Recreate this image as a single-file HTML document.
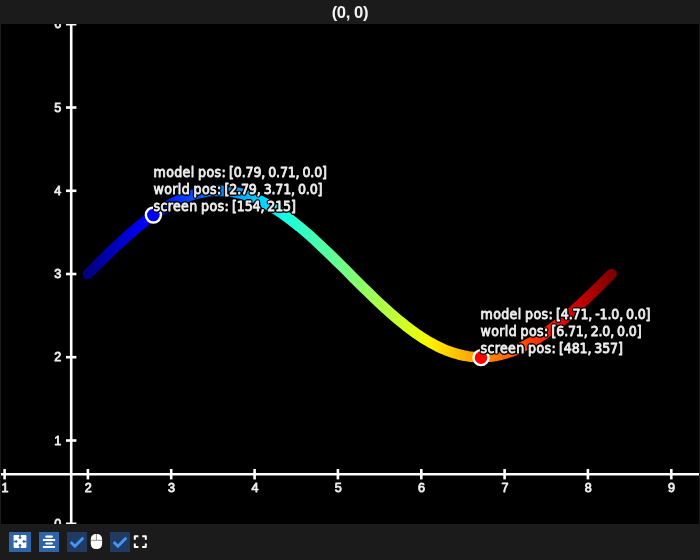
<!DOCTYPE html>
<html><head><meta charset="utf-8"><title>(0, 0)</title>
<style>
html,body{margin:0;padding:0;background:#1b1b1b;}
body{width:700px;height:560px;overflow:hidden;position:relative;font-family:"Liberation Sans","DejaVu Sans",sans-serif;}
#plot{position:absolute;left:1px;top:24px;width:698px;height:500px;background:#000;overflow:hidden;}
#title{position:absolute;left:0;top:-0.7px;width:700px;height:24px;line-height:27px;text-align:center;color:#f2f2f2;font-weight:bold;font-size:16.6px;letter-spacing:-0.4px;text-indent:-0.2px;}
svg{position:absolute;left:-1px;top:-24px;}
.ax line{stroke:#fff;stroke-width:2.6;}
.lbl text{fill:#ececec;stroke:#ececec;stroke-width:0.8px;stroke-linejoin:round;font-size:12.6px;font-family:"Liberation Sans","DejaVu Sans",sans-serif;}
.info text{letter-spacing:0.05px;word-spacing:-0.8px;font-size:14px;font-family:"DejaVu Sans Condensed","Liberation Sans",sans-serif;stroke-linejoin:round;}
.info .a{letter-spacing:0.35px;}
.info .b{letter-spacing:-0.15px;}
.info .f{fill:#ededed;stroke:#ededed;stroke-width:0.8px;}
#tb{position:absolute;left:0;top:524px;width:700px;height:36px;}
</style></head><body>
<div id="title">(0, 0)</div>
<div id="plot">
<svg width="700" height="560" viewBox="0 0 700 560">
<defs><filter id="ol" x="-5%" y="-5%" width="110%" height="110%" color-interpolation-filters="sRGB"><feGaussianBlur in="SourceAlpha" stdDeviation="1.25" result="b"/><feComponentTransfer in="b" result="o"><feFuncR type="discrete" tableValues="0"/><feFuncG type="discrete" tableValues="0"/><feFuncB type="discrete" tableValues="0"/><feFuncA type="linear" slope="8" intercept="-0.4"/></feComponentTransfer><feMerge><feMergeNode in="o"/><feMergeNode in="SourceGraphic"/></feMerge></filter><linearGradient id="jet" gradientUnits="userSpaceOnUse" x1="87.9" y1="0" x2="611.5" y2="0"><stop offset="0.0000" stop-color="rgb(0,0,128)"/><stop offset="0.0100" stop-color="rgb(0,0,139)"/><stop offset="0.0200" stop-color="rgb(0,0,151)"/><stop offset="0.0300" stop-color="rgb(0,0,162)"/><stop offset="0.0400" stop-color="rgb(0,0,174)"/><stop offset="0.0500" stop-color="rgb(0,0,185)"/><stop offset="0.0600" stop-color="rgb(0,0,197)"/><stop offset="0.0700" stop-color="rgb(0,0,209)"/><stop offset="0.0800" stop-color="rgb(0,0,220)"/><stop offset="0.0900" stop-color="rgb(0,0,232)"/><stop offset="0.1000" stop-color="rgb(0,0,243)"/><stop offset="0.1100" stop-color="rgb(0,0,255)"/><stop offset="0.1200" stop-color="rgb(0,0,255)"/><stop offset="0.1300" stop-color="rgb(0,5,255)"/><stop offset="0.1400" stop-color="rgb(0,15,255)"/><stop offset="0.1500" stop-color="rgb(0,25,255)"/><stop offset="0.1600" stop-color="rgb(0,36,255)"/><stop offset="0.1700" stop-color="rgb(0,46,255)"/><stop offset="0.1800" stop-color="rgb(0,56,255)"/><stop offset="0.1900" stop-color="rgb(0,66,255)"/><stop offset="0.2000" stop-color="rgb(0,77,255)"/><stop offset="0.2100" stop-color="rgb(0,87,255)"/><stop offset="0.2200" stop-color="rgb(0,97,255)"/><stop offset="0.2300" stop-color="rgb(0,107,255)"/><stop offset="0.2400" stop-color="rgb(0,117,255)"/><stop offset="0.2500" stop-color="rgb(0,128,255)"/><stop offset="0.2600" stop-color="rgb(0,138,255)"/><stop offset="0.2700" stop-color="rgb(0,148,255)"/><stop offset="0.2800" stop-color="rgb(0,158,255)"/><stop offset="0.2900" stop-color="rgb(0,168,255)"/><stop offset="0.3000" stop-color="rgb(0,178,255)"/><stop offset="0.3100" stop-color="rgb(0,189,255)"/><stop offset="0.3200" stop-color="rgb(0,199,255)"/><stop offset="0.3300" stop-color="rgb(0,209,255)"/><stop offset="0.3400" stop-color="rgb(0,219,255)"/><stop offset="0.3500" stop-color="rgb(0,230,247)"/><stop offset="0.3600" stop-color="rgb(8,240,239)"/><stop offset="0.3700" stop-color="rgb(16,250,230)"/><stop offset="0.3800" stop-color="rgb(25,255,222)"/><stop offset="0.3900" stop-color="rgb(33,255,214)"/><stop offset="0.4000" stop-color="rgb(41,255,206)"/><stop offset="0.4100" stop-color="rgb(49,255,197)"/><stop offset="0.4200" stop-color="rgb(58,255,189)"/><stop offset="0.4300" stop-color="rgb(66,255,181)"/><stop offset="0.4400" stop-color="rgb(74,255,173)"/><stop offset="0.4500" stop-color="rgb(82,255,165)"/><stop offset="0.4600" stop-color="rgb(90,255,156)"/><stop offset="0.4700" stop-color="rgb(99,255,148)"/><stop offset="0.4800" stop-color="rgb(107,255,140)"/><stop offset="0.4900" stop-color="rgb(115,255,132)"/><stop offset="0.5000" stop-color="rgb(123,255,123)"/><stop offset="0.5100" stop-color="rgb(132,255,115)"/><stop offset="0.5200" stop-color="rgb(140,255,107)"/><stop offset="0.5300" stop-color="rgb(148,255,99)"/><stop offset="0.5400" stop-color="rgb(156,255,90)"/><stop offset="0.5500" stop-color="rgb(165,255,82)"/><stop offset="0.5600" stop-color="rgb(173,255,74)"/><stop offset="0.5700" stop-color="rgb(181,255,66)"/><stop offset="0.5800" stop-color="rgb(189,255,58)"/><stop offset="0.5900" stop-color="rgb(197,255,49)"/><stop offset="0.6000" stop-color="rgb(206,255,41)"/><stop offset="0.6100" stop-color="rgb(214,255,33)"/><stop offset="0.6200" stop-color="rgb(222,255,25)"/><stop offset="0.6300" stop-color="rgb(230,255,16)"/><stop offset="0.6400" stop-color="rgb(239,255,8)"/><stop offset="0.6500" stop-color="rgb(247,246,0)"/><stop offset="0.6600" stop-color="rgb(255,236,0)"/><stop offset="0.6700" stop-color="rgb(255,227,0)"/><stop offset="0.6800" stop-color="rgb(255,217,0)"/><stop offset="0.6900" stop-color="rgb(255,208,0)"/><stop offset="0.7000" stop-color="rgb(255,198,0)"/><stop offset="0.7100" stop-color="rgb(255,189,0)"/><stop offset="0.7200" stop-color="rgb(255,179,0)"/><stop offset="0.7300" stop-color="rgb(255,170,0)"/><stop offset="0.7400" stop-color="rgb(255,161,0)"/><stop offset="0.7500" stop-color="rgb(255,151,0)"/><stop offset="0.7600" stop-color="rgb(255,142,0)"/><stop offset="0.7700" stop-color="rgb(255,132,0)"/><stop offset="0.7800" stop-color="rgb(255,123,0)"/><stop offset="0.7900" stop-color="rgb(255,113,0)"/><stop offset="0.8000" stop-color="rgb(255,104,0)"/><stop offset="0.8100" stop-color="rgb(255,94,0)"/><stop offset="0.8200" stop-color="rgb(255,85,0)"/><stop offset="0.8300" stop-color="rgb(255,76,0)"/><stop offset="0.8400" stop-color="rgb(255,66,0)"/><stop offset="0.8500" stop-color="rgb(255,57,0)"/><stop offset="0.8600" stop-color="rgb(255,47,0)"/><stop offset="0.8700" stop-color="rgb(255,38,0)"/><stop offset="0.8800" stop-color="rgb(255,28,0)"/><stop offset="0.8900" stop-color="rgb(255,19,0)"/><stop offset="0.9000" stop-color="rgb(243,9,0)"/><stop offset="0.9100" stop-color="rgb(232,0,0)"/><stop offset="0.9200" stop-color="rgb(220,0,0)"/><stop offset="0.9300" stop-color="rgb(209,0,0)"/><stop offset="0.9400" stop-color="rgb(197,0,0)"/><stop offset="0.9500" stop-color="rgb(185,0,0)"/><stop offset="0.9600" stop-color="rgb(174,0,0)"/><stop offset="0.9700" stop-color="rgb(162,0,0)"/><stop offset="0.9800" stop-color="rgb(151,0,0)"/><stop offset="0.9900" stop-color="rgb(139,0,0)"/><stop offset="1.0000" stop-color="rgb(128,0,0)"/></linearGradient></defs>
<g class="ax">
<line x1="71.2" y1="0" x2="71.2" y2="560"/>
<line x1="0" y1="474.2" x2="700" y2="474.2"/>
<line x1="4.6" y1="469.0" x2="4.6" y2="479.4"/><line x1="87.9" y1="469.0" x2="87.9" y2="479.4"/><line x1="171.2" y1="469.0" x2="171.2" y2="479.4"/><line x1="254.6" y1="469.0" x2="254.6" y2="479.4"/><line x1="337.9" y1="469.0" x2="337.9" y2="479.4"/><line x1="421.3" y1="469.0" x2="421.3" y2="479.4"/><line x1="504.6" y1="469.0" x2="504.6" y2="479.4"/><line x1="587.9" y1="469.0" x2="587.9" y2="479.4"/><line x1="671.3" y1="469.0" x2="671.3" y2="479.4"/><line x1="66.0" y1="523.8" x2="76.4" y2="523.8"/><line x1="66.0" y1="440.5" x2="76.4" y2="440.5"/><line x1="66.0" y1="357.2" x2="76.4" y2="357.2"/><line x1="66.0" y1="274.0" x2="76.4" y2="274.0"/><line x1="66.0" y1="190.8" x2="76.4" y2="190.8"/><line x1="66.0" y1="107.5" x2="76.4" y2="107.5"/><line x1="66.0" y1="24.2" x2="76.4" y2="24.2"/>
</g>
<g class="lbl"><text x="4.9" y="491.9" text-anchor="middle">1</text><text x="88.2" y="491.9" text-anchor="middle">2</text><text x="171.5" y="491.9" text-anchor="middle">3</text><text x="254.9" y="491.9" text-anchor="middle">4</text><text x="338.2" y="491.9" text-anchor="middle">5</text><text x="421.6" y="491.9" text-anchor="middle">6</text><text x="504.9" y="491.9" text-anchor="middle">7</text><text x="588.2" y="491.9" text-anchor="middle">8</text><text x="671.6" y="491.9" text-anchor="middle">9</text><text x="61.3" y="528.0" text-anchor="end">0</text><text x="61.3" y="444.7" text-anchor="end">1</text><text x="61.3" y="361.4" text-anchor="end">2</text><text x="61.3" y="278.2" text-anchor="end">3</text><text x="61.3" y="194.9" text-anchor="end">4</text><text x="61.3" y="111.7" text-anchor="end">5</text><text x="61.3" y="28.4" text-anchor="end">6</text></g>
<path d="M87.90,274.00 L93.19,268.72 L98.48,263.46 L103.77,258.24 L109.06,253.09 L114.35,248.02 L119.64,243.06 L124.93,238.22 L130.21,233.52 L135.50,228.99 L140.79,224.64 L146.08,220.49 L151.37,216.55 L156.66,212.85 L161.95,209.39 L167.24,206.19 L172.53,203.26 L177.82,200.62 L183.11,198.27 L188.40,196.23 L193.69,194.50 L198.98,193.10 L204.26,192.01 L209.55,191.26 L214.84,190.84 L220.13,190.76 L225.42,191.01 L230.71,191.60 L236.00,192.51 L241.29,193.76 L246.58,195.33 L251.87,197.21 L257.16,199.41 L262.45,201.90 L267.74,204.69 L273.03,207.75 L278.31,211.08 L283.60,214.67 L288.89,218.49 L294.18,222.54 L299.47,226.79 L304.76,231.24 L310.05,235.85 L315.34,240.62 L320.63,245.53 L325.92,250.55 L331.21,255.66 L336.50,260.85 L341.79,266.09 L347.08,271.36 L352.36,276.64 L357.65,281.91 L362.94,287.15 L368.23,292.34 L373.52,297.45 L378.81,302.47 L384.10,307.38 L389.39,312.15 L394.68,316.76 L399.97,321.21 L405.26,325.46 L410.55,329.51 L415.84,333.33 L421.13,336.92 L426.42,340.25 L431.70,343.31 L436.99,346.10 L442.28,348.59 L447.57,350.79 L452.86,352.67 L458.15,354.24 L463.44,355.49 L468.73,356.40 L474.02,356.99 L479.31,357.24 L484.60,357.16 L489.89,356.74 L495.18,355.99 L500.47,354.90 L505.75,353.50 L511.04,351.77 L516.33,349.73 L521.62,347.38 L526.91,344.74 L532.20,341.81 L537.49,338.61 L542.78,335.15 L548.07,331.45 L553.36,327.51 L558.65,323.36 L563.94,319.01 L569.23,314.48 L574.52,309.78 L579.80,304.94 L585.09,299.98 L590.38,294.91 L595.67,289.76 L600.96,284.54 L606.25,279.28 L611.54,274.00" fill="none" stroke="url(#jet)" stroke-width="10.6" stroke-linecap="round" stroke-linejoin="round"/>
<circle cx="153.4" cy="215.0" r="7.5" fill="#0000ff" stroke="#fff" stroke-width="2.4"/>
<circle cx="481.0" cy="357.6" r="7.5" fill="#ff0000" stroke="#fff" stroke-width="2.4"/>
<g class="info" filter="url(#ol)"><text class="f" x="153.6" y="176.8"><tspan class="a">model pos:</tspan><tspan class="b"> [0.79, 0.71, 0.0]</tspan></text><text class="f" x="153.6" y="193.8"><tspan class="a">world pos:</tspan><tspan class="b"> [2.79, 3.71, 0.0]</tspan></text><text class="f" x="153.6" y="210.8"><tspan class="a">screen pos:</tspan><tspan class="b"> [154, 215]</tspan></text><text class="f" x="480.6" y="318.8"><tspan class="a">model pos:</tspan><tspan class="b"> [4.71, -1.0, 0.0]</tspan></text><text class="f" x="480.6" y="335.8"><tspan class="a">world pos:</tspan><tspan class="b"> [6.71, 2.0, 0.0]</tspan></text><text class="f" x="480.6" y="352.8"><tspan class="a">screen pos:</tspan><tspan class="b"> [481, 357]</tspan></text></g>
</svg>
</div>
<div id="tb">
<svg width="700" height="36" viewBox="0 524 700 36" style="position:absolute;left:0;top:0">
<rect x="9" y="532" width="22" height="20" fill="#2d65a8"/>
<rect x="13.6" y="535.1" width="12.8" height="12.8" rx="0.8" fill="#fff"/>
<g fill="#2d65a8">
<path d="M19.3,535 h1.4 v2.2 h1.3 l-2,2.1 l-2,-2.1 h1.3z"/>
<path d="M19.3,548 h1.4 v-2.2 h1.3 l-2,-2.1 l-2,2.1 h1.3z"/>
<path d="M13.5,540.8 v1.4 h2.2 v1.3 l2.1,-2 l-2.1,-2 v1.3z"/>
<path d="M26.5,540.8 v1.4 h-2.2 v1.3 l-2.1,-2 l2.1,-2 v1.3z"/>
</g>
<rect x="39" y="532" width="20" height="20" fill="#2d65a8"/>
<g fill="#fff">
<rect x="45.3" y="535.5" width="7.6" height="2.2" rx="1"/>
<rect x="42.9" y="539" width="12.2" height="2.1" rx="0.4"/>
<rect x="45.3" y="542.4" width="7.6" height="2.2" rx="1"/>
<rect x="42.9" y="545.9" width="12.2" height="2.1" rx="0.4"/>
</g>
<rect x="67" y="532" width="20" height="20" fill="#203a61"/>
<path d="M70.7,542 L74.9,546.2 L83.3,537.8" fill="none" stroke="#4296fa" stroke-width="2.8" stroke-linejoin="miter"/>
<rect x="90.8" y="534" width="11.3" height="15.1" rx="5" ry="5" fill="#fff"/>
<path d="M90.8,540.3 h11.3 M96.45,534 v6.3" stroke="#666" stroke-width="0.7" fill="none"/>
<rect x="110" y="532" width="20" height="20" fill="#203a61"/>
<path d="M113.7,542 L117.9,546.2 L126.3,537.8" fill="none" stroke="#4296fa" stroke-width="2.8" stroke-linejoin="miter"/>
<g fill="none" stroke="#fff" stroke-width="2" stroke-linejoin="round">
<path d="M134.8,539.8 v-3.6 h3.6"/>
<path d="M142.2,536.2 h3.6 v3.6"/>
<path d="M145.8,543.4 v3.6 h-3.6"/>
<path d="M138.4,547 h-3.6 v-3.6"/>
</g>
</svg>
</div>
</body></html>
